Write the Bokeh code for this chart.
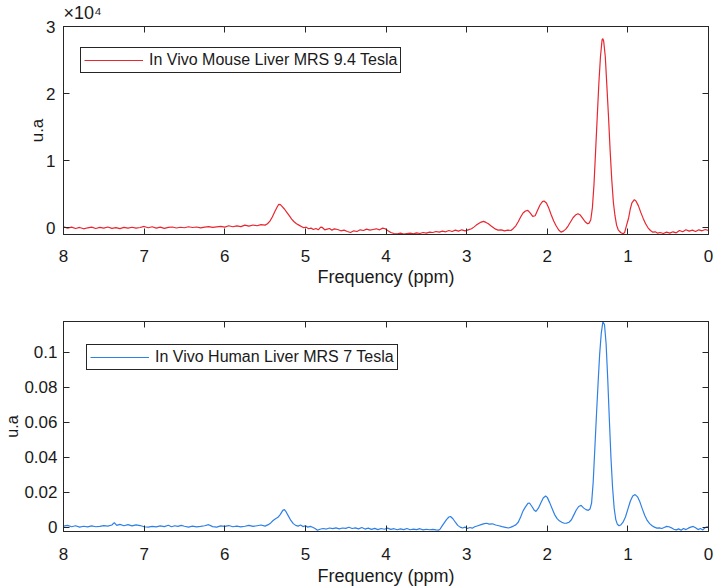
from bokeh.plotting import figure
from bokeh.models import (ColumnDataSource, Range1d, FixedTicker, LinearAxis,
                          CustomLabelingPolicy)
from bokeh.layouts import column
from bokeh.embed import file_html
from bokeh.resources import INLINE

# ---------------- data ----------------
x_ticks = [0, 1, 2, 3, 4, 5, 6, 7, 8]
x_tick_labels = ["0", "1", "2", "3", "4", "5", "6", "7", "8"]

top_y_ticks = [0, 10000, 20000, 30000]
top_y_tick_labels = ["0", "1", "2", "3"]
top_scale_text = "×10⁴"
bot_y_ticks = [0, 0.02, 0.04, 0.06, 0.08, 0.1]
bot_y_tick_labels = ["0", "0.02", "0.04", "0.06", "0.08", "0.1"]

top_label = "In Vivo Mouse Liver MRS 9.4 Tesla"
bot_label = "In Vivo Human Liver MRS 7 Tesla"

mouse_ppm = [8.00, 7.95, 7.90, 7.85, 7.80, 7.75, 7.70, 7.65, 7.60, 7.55, 7.50, 7.45, 7.40, 7.35, 7.30,
             7.25, 7.20, 7.15, 7.10, 7.05, 7.00, 6.95, 6.90, 6.85, 6.80, 6.75, 6.70, 6.65, 6.60, 6.55,
             6.50, 6.45, 6.40, 6.35, 6.30, 6.25, 6.20, 6.15, 6.10, 6.05, 6.00, 5.95, 5.90, 5.85, 5.80,
             5.75, 5.70, 5.65, 5.60, 5.55, 5.50, 5.47, 5.44, 5.41, 5.38, 5.35, 5.33, 5.31, 5.29, 5.26,
             5.23, 5.20, 5.17, 5.14, 5.11, 5.08, 5.05, 5.02, 4.99, 4.96, 4.93, 4.90, 4.87, 4.84, 4.81,
             4.79, 4.76, 4.73, 4.70, 4.67, 4.64, 4.60, 4.56, 4.52, 4.48, 4.44, 4.40, 4.36, 4.32, 4.28,
             4.24, 4.20, 4.16, 4.12, 4.08, 4.04, 4.01, 3.98, 3.94, 3.90, 3.86, 3.82, 3.78, 3.74, 3.70,
             3.66, 3.62, 3.58, 3.54, 3.50, 3.46, 3.42, 3.38, 3.34, 3.30, 3.26, 3.22, 3.18, 3.14, 3.10,
             3.06, 3.02, 2.98, 2.94, 2.91, 2.88, 2.85, 2.82, 2.79, 2.76, 2.73, 2.70, 2.67, 2.64, 2.61,
             2.57, 2.53, 2.49, 2.45, 2.42, 2.39, 2.36, 2.33, 2.30, 2.27, 2.24, 2.21, 2.18, 2.15, 2.12,
             2.09, 2.06, 2.04, 2.01, 1.98, 1.95, 1.92, 1.89, 1.86, 1.83, 1.80, 1.77, 1.74, 1.71, 1.68,
             1.65, 1.62, 1.59, 1.56, 1.53, 1.50, 1.48, 1.46, 1.44, 1.42, 1.40, 1.38, 1.36, 1.34, 1.32,
             1.31, 1.30, 1.28, 1.26, 1.24, 1.22, 1.20, 1.18, 1.16, 1.14, 1.12, 1.09, 1.06, 1.04, 1.02,
             0.99, 0.97, 0.95, 0.92, 0.90, 0.87, 0.84, 0.81, 0.78, 0.75, 0.72, 0.69, 0.66, 0.63, 0.60,
             0.56, 0.52, 0.48, 0.44, 0.40, 0.36, 0.32, 0.28, 0.24, 0.20, 0.16, 0.12, 0.08, 0.04, 0.00]
mouse_val = [150, -50, 100, -100, 50, -150, 0, 100, -100, 50, -50, 120, -80, 30, -120,
             60, -40, 80, -60, 40, 200, 0, 150, -50, 100, -80, 60, 120, -30, 80,
             10, 150, 40, 120, -20, 100, 180, 50, 150, 220, 100, 300, 150, 280, 180,
             400, 250, 420, 300, 480, 400, 600, 1000, 1600, 2400, 3100, 3500, 3450, 3200, 2800,
             2300, 1800, 1300, 900, 600, 400, 200, 0, 100, -150, -50, -250, -100, -300, 100,
             50, -300, -200, -100, -350, -150, -250, -450, -350, -550, -700, -450, -550, -300, -400,
             -200, -350, -250, -150, -300, -50, -150, -400, -700, -850, -900, -800, -950, -850, -800,
             -900, -750, -850, -700, -800, -650, -700, -550, -650, -500, -600, -400, -550, -350, -500,
             -300, -450, -300, -150, 100, 400, 650, 850, 950, 800, 600, 300, 50, -200, -350,
             -300, -450, -350, -400, -100, 300, 900, 1600, 2200, 2500, 2600, 2200, 1700, 1800, 2600,
             3400, 3900, 4000, 3700, 2900, 1900, 1000, 300, -300, -650, -500, -200, 300, 900, 1500,
             1900, 2100, 1900, 1400, 900, 600, 700, 1200, 3000, 6500, 11500, 16500, 21500, 25500, 28000,
             28200, 27800, 25500, 21000, 16500, 11500, 7200, 3800, 1800, 400, -300, -700, -900, -700, 200,
             1500, 2800, 3700, 4200, 4000, 3300, 2300, 1400, 600, 0, -400, -650, -600, -800, -700,
             -850, -650, -800, -600, -750, -400, -600, -300, -500, -350, -550, -300, -450, -250, -400]

human_ppm = [8.00, 7.95, 7.90, 7.85, 7.80, 7.75, 7.70, 7.65, 7.60, 7.55, 7.50, 7.45, 7.40, 7.37, 7.34,
             7.30, 7.25, 7.20, 7.15, 7.10, 7.05, 7.00, 6.95, 6.90, 6.85, 6.80, 6.75, 6.70, 6.66, 6.62,
             6.58, 6.54, 6.50, 6.45, 6.40, 6.35, 6.30, 6.25, 6.20, 6.15, 6.10, 6.05, 6.00, 5.95, 5.90,
             5.85, 5.80, 5.75, 5.70, 5.65, 5.60, 5.55, 5.50, 5.46, 5.43, 5.40, 5.37, 5.34, 5.31, 5.28,
             5.26, 5.24, 5.21, 5.18, 5.15, 5.12, 5.09, 5.06, 5.03, 5.00, 4.97, 4.94, 4.91, 4.88, 4.85,
             4.82, 4.78, 4.74, 4.70, 4.66, 4.62, 4.58, 4.54, 4.50, 4.46, 4.42, 4.38, 4.34, 4.30, 4.26,
             4.22, 4.18, 4.14, 4.10, 4.06, 4.02, 3.98, 3.94, 3.90, 3.86, 3.82, 3.78, 3.74, 3.70, 3.66,
             3.62, 3.58, 3.54, 3.50, 3.46, 3.42, 3.38, 3.35, 3.33, 3.31, 3.28, 3.25, 3.22, 3.20, 3.17,
             3.14, 3.11, 3.08, 3.05, 3.02, 2.99, 2.96, 2.93, 2.90, 2.86, 2.82, 2.78, 2.75, 2.72, 2.68,
             2.64, 2.60, 2.56, 2.52, 2.48, 2.45, 2.42, 2.39, 2.36, 2.33, 2.30, 2.27, 2.24, 2.22, 2.19,
             2.16, 2.14, 2.11, 2.08, 2.05, 2.02, 2.00, 1.97, 1.94, 1.91, 1.88, 1.85, 1.82, 1.79, 1.76,
             1.73, 1.70, 1.67, 1.64, 1.61, 1.58, 1.55, 1.52, 1.49, 1.47, 1.45, 1.43, 1.41, 1.39, 1.37,
             1.35, 1.33, 1.31, 1.29, 1.27, 1.25, 1.23, 1.21, 1.19, 1.17, 1.15, 1.13, 1.11, 1.09, 1.06,
             1.03, 1.00, 0.97, 0.94, 0.91, 0.88, 0.85, 0.82, 0.79, 0.76, 0.73, 0.70, 0.67, 0.64, 0.61,
             0.58, 0.55, 0.52, 0.49, 0.46, 0.43, 0.40, 0.37, 0.34, 0.31, 0.28, 0.25, 0.22, 0.19, 0.16,
             0.13, 0.10, 0.07, 0.04, 0.02, 0.00]
human_val = [0.0008, 0.0012, 0.0004, 0.0010, 0.0002, 0.0007, 0.0003, 0.0009, 0.0004, 0.0006, 0.0011, 0.0008, 0.0014, 0.0028, 0.0012,
             0.0018, 0.0010, 0.0016, 0.0009, 0.0015, 0.0011, 0.0004, 0.0002, 0.0006, 0.0003, 0.0009, 0.0005, 0.0013, 0.0004, 0.0010,
             0.0006, 0.0012, 0.0007, 0.0002, 0.0008, 0.0003, 0.0006, 0.0010, 0.0016, 0.0005, 0.0002, 0.0009, 0.0006, 0.0011, 0.0004,
             0.0008, 0.0003, 0.0007, 0.0012, 0.0006, 0.0010, 0.0014, 0.0008, 0.0016, 0.0026, 0.0040, 0.0050, 0.0058, 0.0075, 0.0098,
             0.0102, 0.0090, 0.0065, 0.0040, 0.0022, 0.0012, 0.0008, 0.0014, 0.0005, 0.0010, 0.0002, 0.0006, 0.0001, -0.0006, -0.0016,
             -0.0010, -0.0006, -0.0009, -0.0003, -0.0007, -0.0002, -0.0008, -0.0003, -0.0005, 0.0001, -0.0006, -0.0002, -0.0008, 0.0000, -0.0009,
             -0.0004, -0.0011, -0.0005, -0.0012, -0.0006, -0.0010, -0.0004, -0.0011, -0.0007, -0.0013, -0.0008, -0.0012, -0.0006, -0.0013, -0.0009,
             -0.0012, -0.0007, -0.0014, -0.0010, -0.0013, -0.0011, -0.0014, -0.0015, -0.0010, 0.0005, 0.0025, 0.0045, 0.0060, 0.0063, 0.0050,
             0.0030, 0.0012, 0.0002, -0.0003, 0.0002, -0.0006, 0.0000, -0.0004, 0.0004, 0.0010, 0.0016, 0.0022, 0.0024, 0.0019, 0.0021,
             0.0014, 0.0010, 0.0005, 0.0001, -0.0003, 0.0002, 0.0008, 0.0015, 0.0030, 0.0060, 0.0095, 0.0118, 0.0138, 0.0140, 0.0120,
             0.0098, 0.0092, 0.0110, 0.0140, 0.0168, 0.0180, 0.0172, 0.0142, 0.0108, 0.0075, 0.0052, 0.0038, 0.0030, 0.0024, 0.0025,
             0.0030, 0.0044, 0.0072, 0.0100, 0.0120, 0.0126, 0.0112, 0.0102, 0.0098, 0.0105, 0.0140, 0.0260, 0.0450, 0.0640, 0.0820,
             0.0990, 0.1110, 0.1175, 0.1160, 0.1050, 0.0850, 0.0620, 0.0400, 0.0230, 0.0110, 0.0045, 0.0018, 0.0010, 0.0014, 0.0030,
             0.0060, 0.0105, 0.0150, 0.0180, 0.0188, 0.0175, 0.0145, 0.0105, 0.0068, 0.0040, 0.0022, 0.0010, 0.0002, -0.0004, -0.0002,
             -0.0006, 0.0000, 0.0006, 0.0004, -0.0002, -0.0010, -0.0014, -0.0008, -0.0016, -0.0006, -0.0012, -0.0004, 0.0002, 0.0006, -0.0002,
             -0.0012, -0.0006, -0.0014, 0.0000, 0.0004, 0.0002]

# ---------------- styling ----------------
FONT = "Liberation Sans"
AX = "#262626"
TXT = "#1a1a1a"
RED = "#e8262f"
BLUE = "#2f80e6"


def style_axis(ax, ticks, labels, show_labels=True, standoff=5):
    ax.ticker = FixedTicker(ticks=ticks)
    ax.minor_tick_line_color = None
    ax.major_tick_in = 6
    ax.major_tick_out = 0
    ax.major_tick_line_color = AX
    ax.axis_line_color = AX
    ax.major_label_text_font = FONT
    ax.major_label_text_color = TXT
    if show_labels:
        ax.major_label_overrides = {t: l for t, l in zip(ticks, labels)}
        ax.major_label_text_font_size = "17px"
        ax.major_label_standoff = standoff
    else:
        ax.major_label_policy = CustomLabelingPolicy(
            code="for (const i of indices) indices.unset(i)\nreturn indices")
        ax.major_label_text_font_size = "1px"
        ax.major_label_standoff = 0
    ax.axis_label_text_font = FONT
    ax.axis_label_text_font_size = "18px"
    ax.axis_label_text_font_style = "normal"
    ax.axis_label_text_color = TXT


def make_panel(ppm, val, yr, yticks, yticklabels, color, label, height, top, bottom,
               xl_standoff, xt_standoff, yt_standoff, yl_standoff, yl_size, leg_x, leg_y):
    p = figure(width=714, height=height, output_backend="svg", toolbar_location=None,
               x_range=Range1d(8, 0), y_range=Range1d(*yr),
               min_border_left=63, min_border_right=6, min_border_top=top,
               min_border_bottom=bottom)
    p.xgrid.grid_line_color = None
    p.ygrid.grid_line_color = None
    p.outline_line_color = AX
    p.outline_line_alpha = 1
    p.background_fill_color = "white"
    p.border_fill_color = "white"

    src = ColumnDataSource(data=dict(ppm=ppm, val=val))
    p.line("ppm", "val", source=src, line_color=color, line_width=1.2, legend_label=label)

    style_axis(p.xaxis[0], x_ticks, x_tick_labels, True, xt_standoff)
    p.xaxis[0].axis_label = "Frequency (ppm)"
    p.xaxis[0].axis_label_standoff = xl_standoff
    style_axis(p.yaxis[0], yticks, yticklabels, True, yt_standoff)
    p.yaxis[0].axis_label = "u.a"
    p.yaxis[0].axis_label_standoff = yl_standoff
    p.yaxis[0].axis_label_text_font_size = yl_size

    ax_r = LinearAxis()
    style_axis(ax_r, yticks, yticklabels, False)
    p.add_layout(ax_r, "right")
    ax_t = LinearAxis()
    style_axis(ax_t, x_ticks, x_tick_labels, False)
    p.add_layout(ax_t, "above")

    lg = p.legend[0]
    lg.location = (leg_x, leg_y)
    lg.margin = 0
    lg.padding = 3
    lg.spacing = 0
    lg.border_line_color = AX
    lg.border_line_width = 1
    lg.border_line_alpha = 1
    lg.background_fill_color = "white"
    lg.background_fill_alpha = 1
    lg.label_text_font = FONT
    lg.label_text_font_size = "16px"
    lg.label_text_color = TXT
    lg.glyph_width = 59
    lg.glyph_height = 16
    lg.label_height = 16
    lg.label_standoff = 6
    return p


p1 = make_panel(mouse_ppm, mouse_val, (-1000, 30000), top_y_ticks, top_y_tick_labels,
                RED, top_label, 303, 24, 69, 2, 15, 8, -4, "17px", 17, 161)
p1.title.text = top_scale_text
p1.title.align = "left"
p1.title.offset = 0
p1.title.standoff = 0
p1.title.text_font = FONT
p1.title.text_font_size = "18px"
p1.title.text_font_style = "normal"
p1.title.text_color = TXT

p2 = make_panel(human_ppm, human_val, (-0.0023, 0.1177), bot_y_ticks, bot_y_tick_labels,
                BLUE, bot_label, 285, 18, 57, 3, 16, 6, 0, "16px", 23, 161)

layout = column(p1, p2, spacing=0)
open("out.html", "w").write(file_html(layout, INLINE))
